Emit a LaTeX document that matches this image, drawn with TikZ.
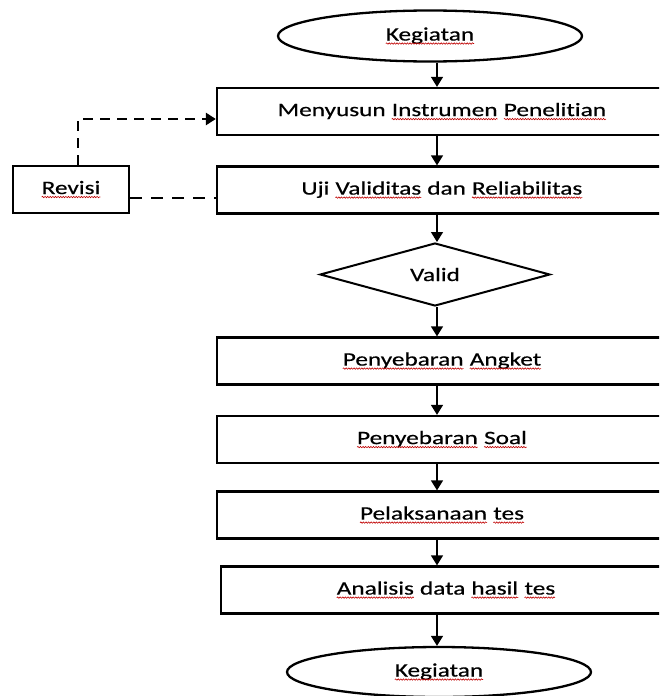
\documentclass[tikz,border=0pt]{standalone}
\usepackage{fontspec}
\setmainfont[FakeStretch=1.33,FakeBold=0.5,Ligatures=NoCommon]{Carlito}
\usetikzlibrary{shapes.geometric,arrows.meta,decorations.pathmorphing}
\newcommand\sqw[1]{\tikz[baseline=(w.base),x=1pt,y=1pt]{\node[shape=rectangle,draw=none,inner sep=0pt,outer sep=0pt,minimum width=0pt,minimum height=0pt](w){#1};\draw[red!75!black,line width=0.6pt,solid,decorate,decoration={snake,amplitude=0.7pt,segment length=2.6pt}]([yshift=-3pt]w.base west)--([yshift=-3pt]w.base east);}}
\begin{document}
\begin{tikzpicture}[x=1pt,y=-1pt,
  every node/.style={font=\fontsize{19}{23}\selectfont,text=black},
  box/.style={draw,line width=2.3pt,minimum width=450pt,minimum height=47pt,inner sep=0pt},
  oval/.style={draw,ellipse,line width=2.3pt,minimum width=304pt,minimum height=51pt,inner sep=0pt},
  dec/.style={draw,diamond,aspect=3.6,line width=2pt,minimum width=230pt,minimum height=63pt,inner sep=0pt},
  arr/.style={-{Triangle[width=12pt,length=10pt]},line width=1.4pt},
  dsh/.style={line width=2.8pt,dash pattern=on 10pt off 7pt}
]
\useasboundingbox (0,0) rectangle (659,696);
\clip (0,0) rectangle (659,696);
\coordinate (col) at (437,0);
\node[oval] (e1) at (430,36) {\sqw{Kegiatan}};
\node[box] (b1) at (442,111.5) {Menyusun \sqw{Instrumen} \sqw{Penelitian}};
\node[box] (b2) at (442,190) {Uji \sqw{Validitas} dan \sqw{Reliabilitas}};
\node[draw,line width=2.3pt,minimum width=116pt,minimum height=47pt,inner sep=0pt] (rev) at (71,189.5) {\sqw{Revisi}};
\node[dec] (v) at (435,274.5) {Valid};
\node[box] (b3) at (442,361) {\sqw{Penyebaran} \sqw{Angket}};
\node[box] (b4) at (442,439.5) {\sqw{Penyebaran} \sqw{Soal}};
\node[box] (b5) at (442,515) {\sqw{Pelaksanaan} \sqw{tes}};
\node[box] (b6) at (446,590) {\sqw{Analisis} data \sqw{hasil} \sqw{tes}};
\node[oval,minimum height=50pt] (e2) at (439,672) {\sqw{Kegiatan}};
\draw[arr] (e1.south -| col) -- (b1.north -| col);
\draw[arr] (b1.south -| col) -- (b2.north -| col);
\draw[arr] (b2.south -| col) -- (v.north -| col);
\draw[arr] (v.south -| col) -- (b3.north -| col);
\draw[arr] (b3.south -| col) -- (b4.north -| col);
\draw[arr] (b4.south -| col) -- (b5.north -| col);
\draw[arr] (b5.south -| col) -- (b6.north -| col);
\draw[arr] (b6.south -| col) -- (e2.north -| col);
\coordinate (rv) at (78,119);
\coordinate (rw) at (0,198);
\draw[dsh,-{Triangle[width=12pt,length=10pt]}] (rev.north -| rv) -- (rv) -- (rv -| b1.west);
\draw[dsh,dash pattern=on 12pt off 9pt] (rev.east |- rw) -- (b2.west |- rw);
\end{tikzpicture}
\end{document}
